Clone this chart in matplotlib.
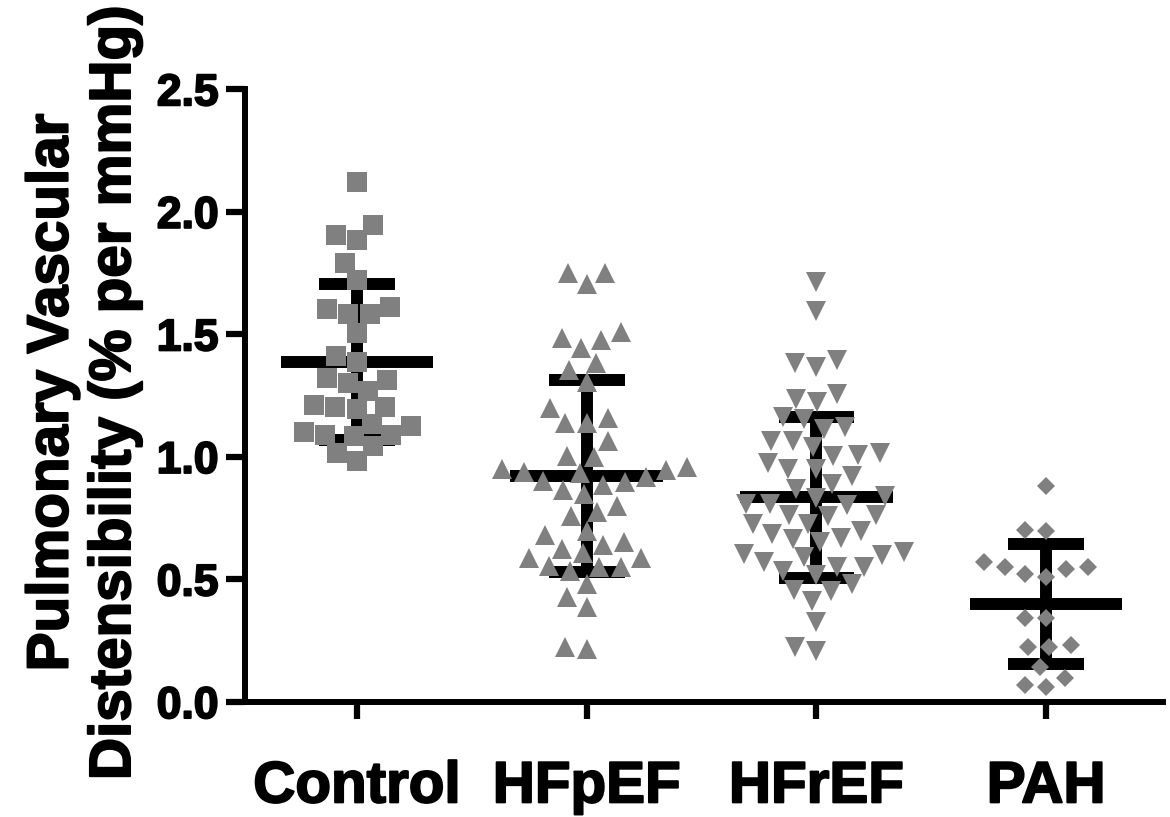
"""Pulmonary vascular distensibility dot plot (mean +/- SD) by group."""

import matplotlib
matplotlib.use("Agg")
import matplotlib.pyplot as plt
import matplotlib.patheffects as pe
import numpy as np
from matplotlib.ticker import FormatStrFormatter

plt.rcParams["font.family"] = ["Liberation Sans", "DejaVu Sans"]
plt.rcParams["font.weight"] = "bold"

groups = ["Control", "HFpEF", "HFrEF", "PAH"]
markers = ["s", "^", "v", "D"]
marker_sizes = [14, 13.9, 13.9, 9.5]

control = [2.12, 1.945, 1.884, 1.907, 1.793, 1.721, 1.61, 1.585, 1.585, 1.603,
           1.505, 1.41, 1.388, 1.313, 1.27, 1.30, 1.324, 1.204, 1.195, 1.204,
           1.212, 1.127, 1.10, 1.134, 1.089, 1.043, 1.086, 1.089, 0.984, 1.015]
hfpef = [1.752, 1.705, 1.75, 1.487, 1.446, 1.478, 1.508, 1.355, 1.385, 1.306,
         1.20, 1.16, 1.138, 1.138, 1.066, 1.004, 0.998, 0.957, 0.947, 0.934,
         0.885, 0.90, 0.896, 0.917, 0.937, 0.95, 0.866, 0.848, 0.777, 0.80,
         0.76, 0.682, 0.699, 0.651, 0.64, 0.608, 0.586, 0.626, 0.586, 0.552,
         0.534, 0.552, 0.556, 0.481, 0.427, 0.389, 0.216, 0.226]
hfref = [1.714, 1.596, 1.385, 1.365, 1.396, 1.256, 1.225, 1.236, 1.154, 1.164,
         1.124, 1.116, 1.066, 1.066, 1.039, 1.016, 1.005, 1.007, 0.95, 0.95,
         0.977, 0.923, 0.869, 0.889, 0.832, 0.808, 0.803, 0.81, 0.841, 0.763,
         0.76, 0.763, 0.726, 0.728, 0.699, 0.685, 0.671, 0.651, 0.665, 0.604,
         0.59, 0.60, 0.613, 0.552, 0.535, 0.57, 0.549, 0.518, 0.481, 0.454,
         0.458, 0.413, 0.327, 0.209, 0.223]
pah = [0.882, 0.696, 0.703, 0.572, 0.553, 0.522, 0.512, 0.542, 0.553, 0.343,
       0.343, 0.223, 0.223, 0.232, 0.144, 0.10, 0.06, 0.069]

means = [1.387, 0.922, 0.835, 0.400]
sds = [0.317, 0.392, 0.330, 0.243]

y_ticks = [0.0, 0.5, 1.0, 1.5, 2.0, 2.5]
y_label = "Pulmonary Vascular\nDistensibility (% per mmHg)"


def swarm_offsets(y_px, d):
    """Greedy swarm layout in pixel space: closest-to-centre non-overlapping spot."""
    order = np.argsort(y_px)
    px_placed, py_placed = [], []
    offs = np.zeros(len(y_px))
    for i in order:
        y = y_px[i]
        cands = [0.0]
        for px_, py_ in zip(px_placed, py_placed):
            dy = abs(py_ - y)
            if dy < d:
                dx = np.sqrt(d * d - dy * dy)
                cands += [px_ - dx, px_ + dx]
        cands.sort(key=abs)
        for c in cands:
            if all((c - a) ** 2 + (y - b) ** 2 >= d * d - 1e-6
                   for a, b in zip(px_placed, py_placed)):
                break
        offs[i] = c
        px_placed.append(c)
        py_placed.append(y)
    return offs


fig = plt.figure(figsize=(11.7, 8.17), dpi=100)
ax = fig.add_axes([0.2094, 0.1407, 0.7846, 0.75])
ax.set_xlim(-0.488, 3.509)
ax.set_ylim(0, 2.5)

data = [control, hfpef, hfref, pah]
x0 = ax.transData.transform((0, 0))
x1 = ax.transData.transform((1, 1))
px_per_x = x1[0] - x0[0]
px_per_y = x1[1] - x0[1]

grey = "#808080"
for i, (vals, mk, ms) in enumerate(zip(data, markers, marker_sizes)):
    vals = np.asarray(vals)
    offs = swarm_offsets(vals * px_per_y, 21.5) / px_per_x
    ax.plot(i + offs, vals, linestyle="none", marker=mk, markersize=ms,
            markerfacecolor=grey, markeredgewidth=0, zorder=3, clip_on=False)

    m, s = means[i], sds[i]
    ax.hlines(m, i - 0.332, i + 0.332, colors="black", linewidth=8.6, zorder=2)
    ax.vlines(i, m - s, m + s, colors="black", linewidth=8.6, zorder=2)
    ax.hlines([m - s, m + s], i - 0.165, i + 0.165, colors="black",
              linewidth=8.6, zorder=2)

for side in ("top", "right"):
    ax.spines[side].set_visible(False)
for side in ("left", "bottom"):
    ax.spines[side].set_linewidth(4.3)

heavy = [pe.withStroke(linewidth=1.4, foreground="black")]

ax.set_xticks(range(len(groups)))
ax.set_xticklabels(groups, fontsize=42, fontweight="bold")
ax.set_yticks(y_ticks)
ax.yaxis.set_major_formatter(FormatStrFormatter("%.1f"))
for lab in ax.get_yticklabels():
    lab.set_fontsize(32)
    lab.set_fontweight("bold")
for lab in ax.get_xticklabels() + ax.get_yticklabels():
    lab.set_path_effects(heavy)
ax.tick_params(axis="x", length=12, width=4.5, pad=30)
ax.tick_params(axis="y", length=14, width=4.5, pad=5)

fig.text(0.1214, 0.52, y_label, rotation=90, ha="right", va="center",
         multialignment="center", fontsize=42, fontweight="bold",
         linespacing=1.2, path_effects=heavy)

fig.savefig("out.png", dpi=100, facecolor="white")
plt.close(fig)
